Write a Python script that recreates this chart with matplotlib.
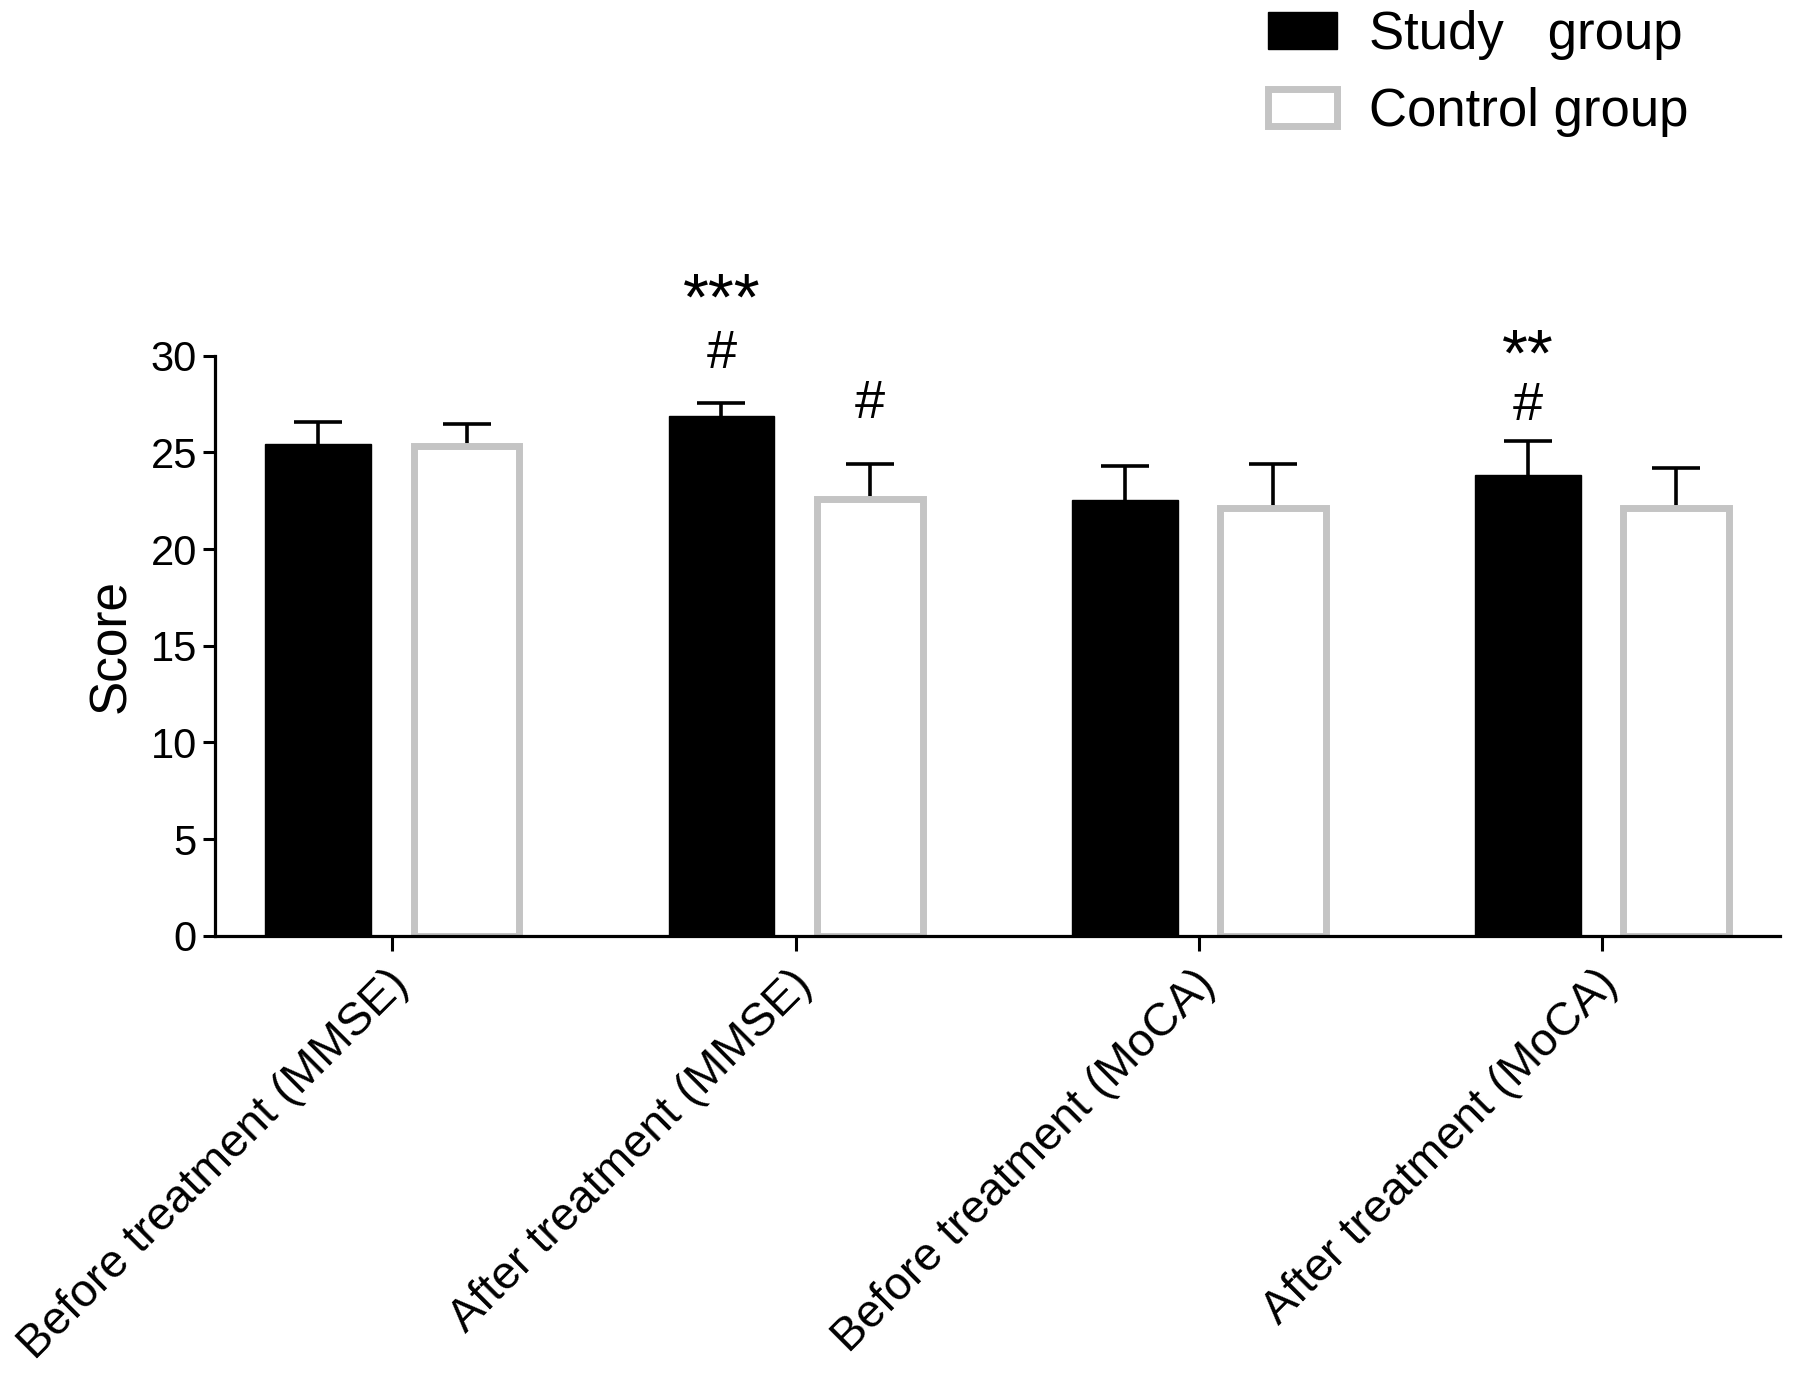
import numpy as np
import matplotlib
matplotlib.use("Agg")
import matplotlib.pyplot as plt
from matplotlib.patches import Patch
from matplotlib.transforms import ScaledTranslation

plt.rcParams['font.family'] = ['Liberation Sans', 'DejaVu Sans']

# données
categories = ["Before treatment (MMSE)", "After treatment (MMSE)",
              "Before treatment (MoCA)", "After treatment (MoCA)"]
study = [25.45, 26.85, 22.55, 23.8]
study_err = [1.1, 0.7, 1.75, 1.8]
control = [25.3, 22.6, 22.1, 22.1]
control_err = [1.15, 1.8, 2.3, 2.1]
y_ticks = [0, 5, 10, 15, 20, 25, 30]

# annotations : (groupe, série, texte)
marks = [(1, 0, "#"), (1, 0, "***"), (1, 1, "#"), (3, 0, "#"), (3, 0, "**")]

GRAY = "#c4c4c4"


def bars(ax):
    x = np.arange(len(categories))
    off = 0.184
    w = 0.262
    ax.bar(x - off, study, w, color="black", edgecolor="black", lw=1, zorder=2)
    ax.bar(x + off, control, w, color="white", edgecolor=GRAY, lw=5, zorder=2)
    # barres d'erreur derrière les barres (seule la moitié haute est visible)
    ax.errorbar(x - off, study, yerr=study_err, fmt="none",
                ecolor="black", elinewidth=2.6, capsize=17, capthick=2.6, zorder=1)
    ax.errorbar(x + off, control, yerr=control_err, fmt="none",
                ecolor="black", elinewidth=2.6, capsize=17, capthick=2.6, zorder=1)
    return x, off


def annotations(ax, x, off):
    # décalages en points au-dessus du haut de la barre d'erreur
    offsets = {(1, 0, "#"): 25.5, (1, 0, "***"): 60, (1, 1, "#"): 33,
               (3, 0, "#"): 15, (3, 0, "**"): 47}
    for g, s, txt in marks:
        if s == 0:
            xx = x[g] - off
            top = study[g] + study_err[g]
        else:
            xx = x[g] + off
            top = control[g] + control_err[g]
        fs = 39 if txt == "#" else 48
        ax.annotate(txt, xy=(xx, top), xytext=(0, offsets[(g, s, txt)]),
                    textcoords="offset points", ha="center", va="baseline",
                    fontsize=fs)


fig = plt.figure(figsize=(17.95, 13.77), dpi=100)
ax = fig.add_axes([0.1198, 0.3203, 0.9916 - 0.1198, 0.7418 - 0.3203])

x, off = bars(ax)
annotations(ax, x, off)

ax.set_xlim(-0.44, 3.441)
ax.set_ylim(0, 30)
ax.set_yticks(y_ticks)
ax.set_xticks(x)
ax.set_xticklabels(categories, rotation=45, ha="right", va="center",
                   rotation_mode="anchor", fontsize=33.5)
ax.tick_params(axis="y", labelsize=30, length=9, width=2.2, pad=4)
ax.tick_params(axis="x", length=11, width=2.2, pad=19)
# petit décalage des étiquettes vers la droite
shift = ScaledTranslation(9 / 100, 0, fig.dpi_scale_trans)
for lab in ax.get_xticklabels():
    lab.set_transform(lab.get_transform() + shift)
ax.set_ylabel("Score", fontsize=37, labelpad=10)

for sp in ["top", "right"]:
    ax.spines[sp].set_visible(False)
for sp in ["left", "bottom"]:
    ax.spines[sp].set_linewidth(2.3)
    ax.spines[sp].set_zorder(4)

# légende en haut à droite
handles = [Patch(facecolor="black", edgecolor="black", lw=1),
           Patch(facecolor="white", edgecolor=GRAY, lw=5)]
fig.legend(handles, ["Study   group", "Control group"], loc="upper left",
           bbox_to_anchor=(1268 / 1795, 1 - 10 / 1377), frameon=False,
           fontsize=38, handlelength=1.31, handleheight=0.70,
           handletextpad=0.61, labelspacing=0.52, borderpad=0, borderaxespad=0)

fig.savefig("out.png", dpi=100)
